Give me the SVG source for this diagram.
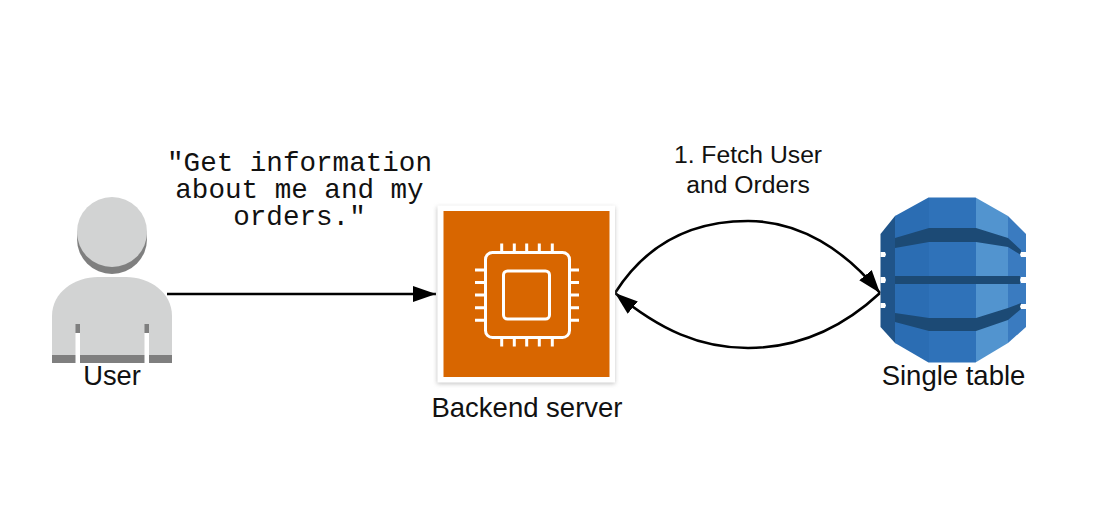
<svg xmlns="http://www.w3.org/2000/svg" width="1096" height="528" viewBox="0 0 1096 528">
<style>
.sans{font-family:"Liberation Sans",Arial,sans-serif;fill:#111;text-anchor:middle}
.mono{font-family:"Liberation Mono","Courier New",monospace;fill:#111;text-anchor:middle;font-size:27.6px}
.edge{fill:none;stroke:#000;stroke-width:2.6}
.pin{stroke:#fff;stroke-width:3;fill:none}
.band{fill:#1c4a75}
.notch{fill:#fff}
</style>
<defs>
<marker id="arrow" markerUnits="userSpaceOnUse" markerWidth="26" markerHeight="18" refX="23" refY="8" orient="auto"><path d="M0,0L23,8L0,16Z" fill="#000"/></marker>
<filter id="shadow" x="-10%" y="-10%" width="120%" height="120%"><feGaussianBlur stdDeviation="2"/></filter>
<clipPath id="dbclip"><path d="M928.5,197.5H975.5L1008,216L1026,234V327L1008,343L975.5,362.5H928.5L895,343L880.5,327V234L895,216Z"/></clipPath>
</defs>
<rect width="1096" height="528" fill="#fff"/>
<g id="connectors">
<path class="edge" d="M167,294H436" marker-end="url(#arrow)"/>
<path class="edge" d="M615,293C650,238 700,221 748,221C800,221 845,250 880,293" marker-end="url(#arrow)"/>
<path class="edge" d="M880,293C840,330 795,348 748,348C700,348 660,330 615,293" marker-end="url(#arrow)"/>
</g>
<g id="user">
<circle cx="112" cy="239" r="35" fill="#7f7f7f"/>
<circle cx="112" cy="232" r="35" fill="#d2d3d3"/>
<path d="M52,355V316C52,292 75,277 98,277H126C149,277 172,292 172,316V355Z" fill="#d2d3d3"/>
<rect x="52" y="355" width="120" height="8" fill="#7f7f7f"/>
<rect x="75.5" y="324" width="4.5" height="9" fill="#7f7f7f"/>
<rect x="144.5" y="324" width="4.5" height="9" fill="#7f7f7f"/>
<rect x="75.5" y="333" width="4.5" height="30" fill="#fff"/>
<rect x="144.5" y="333" width="4.5" height="30" fill="#fff"/>
<text class="sans" x="112" y="385" font-size="27.3">User</text>
</g>
<g id="server">
<rect x="437" y="207" width="178" height="177" fill="#999" opacity=".55" filter="url(#shadow)"/>
<rect x="437.5" y="205.5" width="177.5" height="177" fill="#fff"/>
<rect x="443.5" y="211" width="166" height="166" fill="#d86600"/>
<rect x="485.5" y="252.5" width="84" height="85" rx="7" class="pin"/>
<rect x="503.5" y="271" width="46" height="48" rx="4" class="pin"/>
<path class="pin" d="M501.7,243.5V252M514.3,243.5V252M526.7,243.5V252M539.3,243.5V252M552.3,243.5V252M501.7,338V346.5M514.3,338V346.5M526.7,338V346.5M539.3,338V346.5M552.3,338V346.5M475,270H485M475,282.5H485M475,295H485M475,307.7H485M475,320.3H485M570,270H579M570,282.5H579M570,295H579M570,307.7H579M570,320.3H579"/>
<text class="sans" x="527" y="417" font-size="27.5">Backend server</text>
</g>
<g id="table">
<g clip-path="url(#dbclip)">
<rect x="880" y="197" width="15.5" height="166" fill="#205489"/>
<rect x="895" y="197" width="34" height="166" fill="#2b6db3"/>
<rect x="929" y="197" width="47" height="166" fill="#2f72b9"/>
<rect x="976" y="197" width="32" height="166" fill="#5294cf"/>
<rect x="1008" y="197" width="18" height="166" fill="#3a7bc0"/>
<path class="band" d="M895,238L929,228H976L1008,238L1021,250V255L1008,247L976,242H929L895,248Z"/>
<rect class="band" x="895" y="276" width="125" height="8"/>
<path class="band" d="M895,313L929,318H976L1008,308L1021,303V309L1008,320L976,331H929L895,322Z"/>
<path class="notch" d="M880,252H885L886,254.5L885,257H880ZM1026,252H1021L1020,254.5L1021,257H1026ZM880,277H885L886,280L885,283H880ZM1026,277H1021L1020,280L1021,283H1026ZM880,303H885L886,305.5L885,308H880ZM1026,304H1021L1020,306.5L1021,309H1026Z"/>
</g>
<text class="sans" x="953.5" y="385" font-size="27.5">Single table</text>
</g>
<g id="labels">
<text class="mono"><tspan x="299.5" y="171">"Get information</tspan><tspan x="299.5" y="198">about me and my</tspan><tspan x="299.5" y="225">orders."</tspan></text>
<text class="sans" font-size="24.7"><tspan x="748" y="163">1. Fetch User</tspan><tspan x="748" y="192.5">and Orders</tspan></text>
</g>
</svg>
